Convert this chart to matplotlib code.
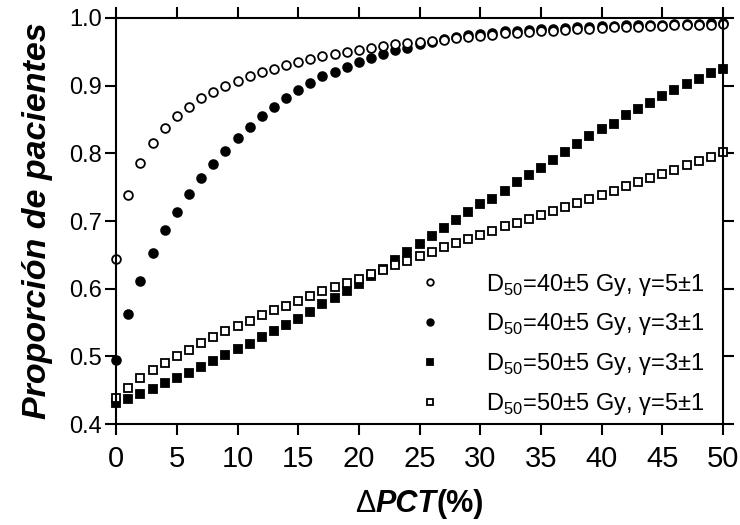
import matplotlib
matplotlib.use("Agg")
import matplotlib.pyplot as plt
import numpy as np

plt.rcParams['font.family'] = ['Liberation Sans', 'DejaVu Sans']
plt.rcParams['mathtext.fontset'] = 'custom'
plt.rcParams['mathtext.rm'] = 'Liberation Sans'

# delta PCT (%) from 0 to 50
dpct = np.arange(0, 51)

# D50=40+-5 Gy, gamma=5+-1
d40_g5 = [0.644, 0.738, 0.786, 0.815, 0.838, 0.855, 0.869, 0.881, 0.891, 0.899,
          0.907, 0.914, 0.920, 0.925, 0.931, 0.935, 0.939, 0.943, 0.947, 0.950,
          0.953, 0.956, 0.959, 0.961, 0.963, 0.965, 0.966, 0.968, 0.970, 0.971,
          0.973, 0.975, 0.977, 0.978, 0.979, 0.980, 0.981, 0.982, 0.983, 0.984,
          0.985, 0.986, 0.986, 0.987, 0.988, 0.988, 0.989, 0.989, 0.990, 0.990,
          0.991]

# D50=40+-5 Gy, gamma=3+-1
d40_g3 = [0.495, 0.563, 0.612, 0.653, 0.687, 0.714, 0.740, 0.763, 0.784, 0.804,
          0.822, 0.839, 0.855, 0.869, 0.882, 0.894, 0.904, 0.914, 0.920, 0.928,
          0.935, 0.941, 0.946, 0.952, 0.956, 0.961, 0.965, 0.969, 0.972, 0.974,
          0.976, 0.978, 0.980, 0.981, 0.982, 0.983, 0.984, 0.985, 0.986, 0.987,
          0.988, 0.988, 0.989, 0.989, 0.990, 0.990, 0.991, 0.991, 0.991, 0.992,
          0.992]

# D50=50+-5 Gy, gamma=3+-1
d50_g3 = [0.431, 0.437, 0.445, 0.452, 0.461, 0.468, 0.476, 0.485, 0.493, 0.502,
          0.511, 0.519, 0.529, 0.537, 0.546, 0.556, 0.566, 0.577, 0.587, 0.597,
          0.607, 0.619, 0.629, 0.642, 0.654, 0.666, 0.678, 0.690, 0.702, 0.713,
          0.725, 0.733, 0.744, 0.757, 0.768, 0.778, 0.790, 0.802, 0.813, 0.825,
          0.836, 0.844, 0.856, 0.865, 0.874, 0.884, 0.894, 0.902, 0.910, 0.918,
          0.924]

# D50=50+-5 Gy, gamma=5+-1
d50_g5 = [0.439, 0.454, 0.468, 0.480, 0.491, 0.501, 0.510, 0.520, 0.529, 0.537,
          0.545, 0.553, 0.561, 0.568, 0.575, 0.582, 0.589, 0.596, 0.603, 0.609,
          0.615, 0.622, 0.628, 0.635, 0.641, 0.648, 0.655, 0.661, 0.667, 0.673,
          0.679, 0.685, 0.692, 0.697, 0.703, 0.709, 0.715, 0.721, 0.726, 0.733,
          0.738, 0.745, 0.751, 0.757, 0.763, 0.769, 0.775, 0.782, 0.788, 0.794,
          0.802]

labels = [r'D$_{50}$=40±5 Gy, γ=5±1',
          r'D$_{50}$=40±5 Gy, γ=3±1',
          r'D$_{50}$=50±5 Gy, γ=3±1',
          r'D$_{50}$=50±5 Gy, γ=5±1']

fig = plt.figure(figsize=(7.4, 5.25), dpi=100)
ax = fig.add_axes([0.157, 0.192, 0.820, 0.774])

kw = dict(linestyle='none', markeredgecolor='black', markeredgewidth=1.3,
          clip_on=False, markersize=6.3)
h3, = ax.plot(dpct, d50_g3, marker='s', markerfacecolor='black', label=labels[2], **kw)
h4, = ax.plot(dpct, d50_g5, marker='s', markerfacecolor='white', label=labels[3], **kw)
h2, = ax.plot(dpct, d40_g3, marker='o', markerfacecolor='black', label=labels[1], **kw)
h1, = ax.plot(dpct, d40_g5, marker='o', markerfacecolor='white', label=labels[0], **kw)

ax.set_xlim(0, 50)
ax.set_ylim(0.4, 1.0)
ax.set_xticks(np.arange(0, 51, 5))
ax.set_yticks(np.arange(0.4, 1.01, 0.1))
ax.set_yticklabels([f'{v:.1f}' for v in np.arange(0.4, 1.01, 0.1)])

for s in ax.spines.values():
    s.set_linewidth(1.5)
ax.tick_params(which='both', direction='out', length=8, width=1.5,
               top=True, right=True, labeltop=False, labelright=False)
ax.tick_params(axis='y', labelsize=17, pad=2)
ax.tick_params(axis='x', labelsize=21, pad=7)
for t in ax.get_xticklabels():
    t.set_family(['Liberation Sans Narrow', 'Liberation Sans'])

ax.set_ylabel('Proporción de pacientes', fontsize=24.5, fontweight='bold',
              fontstyle='italic', labelpad=12)

# x label in three pieces: plain delta, bold italic PCT, bold (%)
parts = [('Δ', 'normal', 'normal'), ('PCT', 'bold', 'italic'), ('(%)', 'bold', 'normal')]
texts = [fig.text(0, 0.040, s, fontsize=22, fontweight=w, fontstyle=st,
                  ha='left', va='center') for s, w, st in parts]
fig.canvas.draw()
r = fig.canvas.get_renderer()
widths = [t.get_window_extent(r).width for t in texts]
x0 = (116 + 723) / 2 - sum(widths) / 2
for t, w in zip(texts, widths):
    t.set_x(x0 / fig.bbox.width)
    x0 += w

ax.legend(handles=[h1, h2, h3, h4], loc='lower right', frameon=False,
          fontsize=17, markerscale=0.75, handlelength=1.0, handletextpad=1.9,
          labelspacing=0.58, borderaxespad=0.0, bbox_to_anchor=(0.985, -0.005))

fig.savefig('out.png', dpi=100)
